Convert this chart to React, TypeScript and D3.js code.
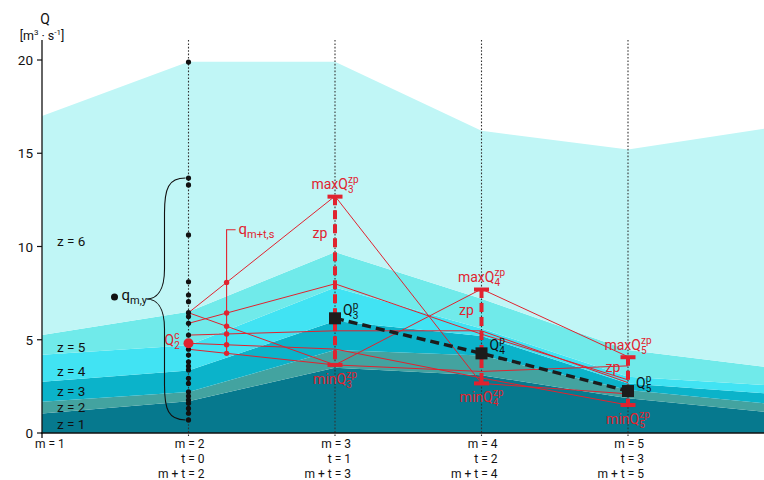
import React from 'react';
import * as d3 from 'd3';

// ---- data ----
const months = [1, 2, 3, 4, 5, 6];
const zoneNames = ['z = 1', 'z = 2', 'z = 3', 'z = 4', 'z = 5', 'z = 6'];
// thickness of each flow zone per month (stacked)
const zone1 = [1.05, 1.7, 3.5, 3.1, 1.86, 1.09];
const zone2 = [0.63, 0.5, 0.95, 1.05, 0.44, 0.45];
const zone3 = [1.07, 1.15, 1.55, 1.05, 0.36, 0.55];
const zone4 = [1.45, 1.35, 1.8, 0.4, 0.36, 0.45];
const zone5 = [1.05, 1.8, 1.9, 1.6, 1.43, 0.94];
const zone6 = [11.75, 13.4, 10.2, 9.0, 10.75, 12.92];
const zoneColors = ['#06798e', '#43a3a0', '#0bb3ca', '#41e3f3', '#70eaea', '#c0f6f6'];
const zoneLabelValues = [0.5, 1.4, 2.25, 3.3, 4.6, 10.3];

const histMonth = 2;
const histQ = [19.89, 13.67, 13.3, 10.62, 8.11, 7.4, 7.04, 6.45, 6.24, 5.88, 5.25, 4.49, 4.18, 3.82, 3.59, 3.38, 2.93, 2.66, 2.21, 1.98, 1.77, 1.59, 1.32, 1.06, 0.7];
const currentQ = 4.81;

const trajMonths = [2, 3, 4, 5];
const trajA = [6.45, 12.7, 2.66, 2.1];
const trajB = [5.88, 8.0, 5.3, 2.85];
const trajC = [6.45, 3.65, 7.72, 4.09];
const trajD = [5.25, 5.48, 5.48, 2.7];
const trajE = [4.81, 4.5, 2.95, 1.5];
const trajF = [4.49, 3.65, 3.3, 3.6];
const trajectories = [trajA, trajB, trajC, trajD, trajE, trajF];
const sampleM = 2.26;
const sampleLabelQ = 10.9;

const predMonths = [3, 4, 5];
const predQ = [6.15, 4.27, 2.25];

const yTicks = [0, 5, 10, 15, 20];
const tickMonths = [1, 2, 3, 4, 5];
const mLabels = ['m = 1', 'm = 2', 'm = 3', 'm = 4', 'm = 5'];
const tLabels = ['', 't = 0', 't = 1', 't = 2', 't = 3'];
const mtLabels = ['', 'm + t = 2', 'm + t = 3', 'm + t = 4', 'm + t = 5'];

const RED = '#e0232f';
const FONT = "Roboto, 'Liberation Sans', sans-serif";

function SubSup({ x, y, pre = '', main, sub, sup, anchor = 'start', fill = '#111', size = 14, subW = 5.5 }: any) {
  const s = Math.round(size * 0.7);
  return (
    <text x={x} y={y} textAnchor={anchor} fill={fill} fontSize={size} fontFamily={FONT}>
      {pre}{main}
      <tspan fontSize={s} dy={4}>{sub}</tspan>
      {sup ? <tspan fontSize={s} dx={-subW} dy={-10}>{sup}</tspan> : null}
    </text>
  );
}

export default function App() {
  const W = 764, H = 480;
  const x = d3.scaleLinear().domain([1, 6]).range([42, 42 + 5 * 146.5]);
  const y = d3.scaleLinear().domain([0, 20]).range([433, 60]);

  const keys = ['z1', 'z2', 'z3', 'z4', 'z5', 'z6'];
  const zones = [zone1, zone2, zone3, zone4, zone5, zone6];
  const rows = months.map((m, i) => {
    const r: any = { m };
    keys.forEach((k, j) => (r[k] = zones[j][i]));
    return r;
  });
  const series = d3.stack().keys(keys)(rows);
  const area = d3
    .area<any>()
    .x((d: any) => x(d.data.m))
    .y0((d: any) => y(d[0]))
    .y1((d: any) => y(d[1]));

  const line = d3.line<[number, number]>().x((d) => x(d[0])).y((d) => y(d[1]));

  const maxQ = trajMonths.slice(1).map((_, i) => d3.max(trajectories, (t) => t[i + 1]) as number);
  const minQ = trajMonths.slice(1).map((_, i) => d3.min(trajectories, (t) => t[i + 1]) as number);

  const frac = (sampleM - trajMonths[0]) / (trajMonths[1] - trajMonths[0]);
  const sampleVals = trajectories.map((t) => t[0] + frac * (t[1] - t[0]));
  const sx = x(sampleM);

  // brace
  const bTop = y(histQ[1]);
  const bBot = y(histQ[histQ.length - 1]);
  const bMid = (bTop + bBot) / 2;
  const bx0 = x(histMonth) - 3;
  const bxi = bx0 - 21;
  const btip = bx0 - 39;
  const brace = `M${bx0},${bTop} C${bxi + 4},${bTop} ${bxi},${bTop + 10} ${bxi},${bTop + 35} L${bxi},${bMid - 30} C${bxi},${bMid - 8} ${bxi - 8},${bMid} ${btip},${bMid} C${bxi - 8},${bMid} ${bxi},${bMid + 8} ${bxi},${bMid + 30} L${bxi},${bBot - 35} C${bxi},${bBot - 10} ${bxi + 4},${bBot} ${bx0},${bBot}`;

  return (
    <svg width={W} height={H} style={{ position: 'absolute', left: 0, top: 0, background: '#fff' }} fontFamily={FONT}>
      <defs>
        <clipPath id="plot">
          <rect x={42} y={0} width={W - 42} height={433} />
        </clipPath>
      </defs>
      <g clipPath="url(#plot)">
        {series.map((s, i) => (
          <path key={i} d={area(s as any) as string} fill={zoneColors[i]} />
        ))}
      </g>

      {/* dotted month lines */}
      {tickMonths.slice(1).map((m) => (
        <line key={m} x1={x(m)} x2={x(m)} y1={40} y2={437} stroke="#333" strokeWidth={1.1} strokeDasharray="1.6 1.8" />
      ))}

      {/* axes */}
      <line x1={42} x2={42} y1={40} y2={434} stroke="#111" strokeWidth={1.3} />
      <line x1={41} x2={W} y1={433} y2={433} stroke="#111" strokeWidth={1.5} />
      <line x1={42} x2={42} y1={433} y2={438} stroke="#111" strokeWidth={1.3} />
      {yTicks.map((v) => (
        <g key={v}>
          <line x1={37} x2={42} y1={y(v)} y2={y(v)} stroke="#111" strokeWidth={1.2} />
          <text x={33} y={y(v) + 5} textAnchor="end" fontSize={13.5} fill="#111">{v}</text>
        </g>
      ))}
      <text x={45} y={24} textAnchor="middle" fontSize={14} fill="#111">Q</text>
      <text x={42} y={40} textAnchor="middle" fontSize={12.5} fill="#111">
        [m<tspan fontSize={8} dy={-5}>3</tspan><tspan dy={5}> · s</tspan><tspan fontSize={8} dy={-5}>-1</tspan><tspan dy={5}>]</tspan>
      </text>

      {/* x labels */}
      {tickMonths.map((m, i) => (
        <g key={m} fontSize={12} fill="#111">
          {i === 0 ? (
            <text x={x(m) - 7} y={448} textAnchor="start">{mLabels[i]}</text>
          ) : (
            <text x={x(m) + 16} y={447.5} textAnchor="end">{mLabels[i]}</text>
          )}
          <text x={x(m) + 16} y={462.5} textAnchor="end">{tLabels[i]}</text>
          <text x={x(m) + 16} y={477.5} textAnchor="end">{mtLabels[i]}</text>
        </g>
      ))}

      {/* zone labels */}
      {zoneNames.map((z, i) => (
        <text key={z} x={57} y={y(zoneLabelValues[i]) + 5} fontSize={13.5} fill="#111">{z}</text>
      ))}

      {/* red trajectories */}
      {trajectories.map((t, i) => (
        <path key={i} d={line(t.map((v, j) => [trajMonths[j], v]) as any) as string} fill="none" stroke={RED} strokeWidth={1} />
      ))}

      {/* sample vertical line q_{m+t,s} */}
      <path
        d={`M${sx},${y(d3.min(sampleVals) as number)} L${sx},${y(sampleLabelQ)} L${sx + 9},${y(sampleLabelQ)}`}
        fill="none"
        stroke={RED}
        strokeWidth={1.1}
      />
      {sampleVals.map((v, i) => (
        <circle key={i} cx={sx} cy={y(v)} r={2.7} fill={RED} />
      ))}
      <SubSup x={sx + 12} y={y(sampleLabelQ) + 4} main="q" sub="m+t,s" fill={RED} size={15} />

      {/* historical dots */}
      {histQ.map((v, i) => (
        <circle key={i} cx={x(histMonth)} cy={y(v)} r={2.6} fill="#111" />
      ))}
      <path d={brace} fill="none" stroke="#111" strokeWidth={1.1} />
      <circle cx={btip - 32} cy={bMid - 2} r={3.5} fill="#111" />
      <SubSup x={btip - 25} y={bMid + 1} main="q" sub="m,y" fill="#111" size={15} />

      {/* current flow */}
      <circle cx={x(histMonth)} cy={y(currentQ)} r={5} fill={RED} />
      <SubSup x={x(histMonth) - 24} y={y(currentQ) + 2} main="Q" sub="2" sup="c" fill={RED} size={14} />

      {/* zp ranges */}
      {predMonths.map((m, i) => {
        const yt = y(maxQ[i]);
        const yb = y(minQ[i]);
        return (
          <g key={m}>
            <line x1={x(m)} x2={x(m)} y1={yt} y2={yb} stroke={RED} strokeWidth={4} strokeDasharray="9 5" />
            <rect x={x(m) - 7.5} y={yt - 1.5} width={15} height={4} fill={RED} />
            <rect x={x(m) - 7.5} y={yb - 2} width={15} height={4} fill={RED} />
            <SubSup x={x(m)} y={yt - 7} anchor="middle" pre="max" main="Q" sub={String(m)} sup="zp" fill={RED} size={14} />
            <SubSup x={x(m)} y={yb + 19} anchor="middle" pre="min" main="Q" sub={String(m)} sup="zp" fill={RED} size={14} />
            <text x={x(m) - 15} y={yt + 0.22 * (yb - yt) + 5} textAnchor="middle" fontSize={14} fill={RED}>zp</text>
          </g>
        );
      })}

      {/* forecast */}
      <path d={line(predMonths.map((m, i) => [m, predQ[i]]) as any) as string} fill="none" stroke="#1c1c1c" strokeWidth={3.5} strokeDasharray="9 5" />
      {predMonths.map((m, i) => (
        <g key={m}>
          <rect x={x(m) - 6} y={y(predQ[i]) - 6} width={12} height={12} fill="#1c1c1c" />
          <SubSup x={x(m) + 8} y={y(predQ[i]) - 3} main="Q" sub={String(m)} sup="p" fill="#111" size={14} />
        </g>
      ))}
    </svg>
  );
}
